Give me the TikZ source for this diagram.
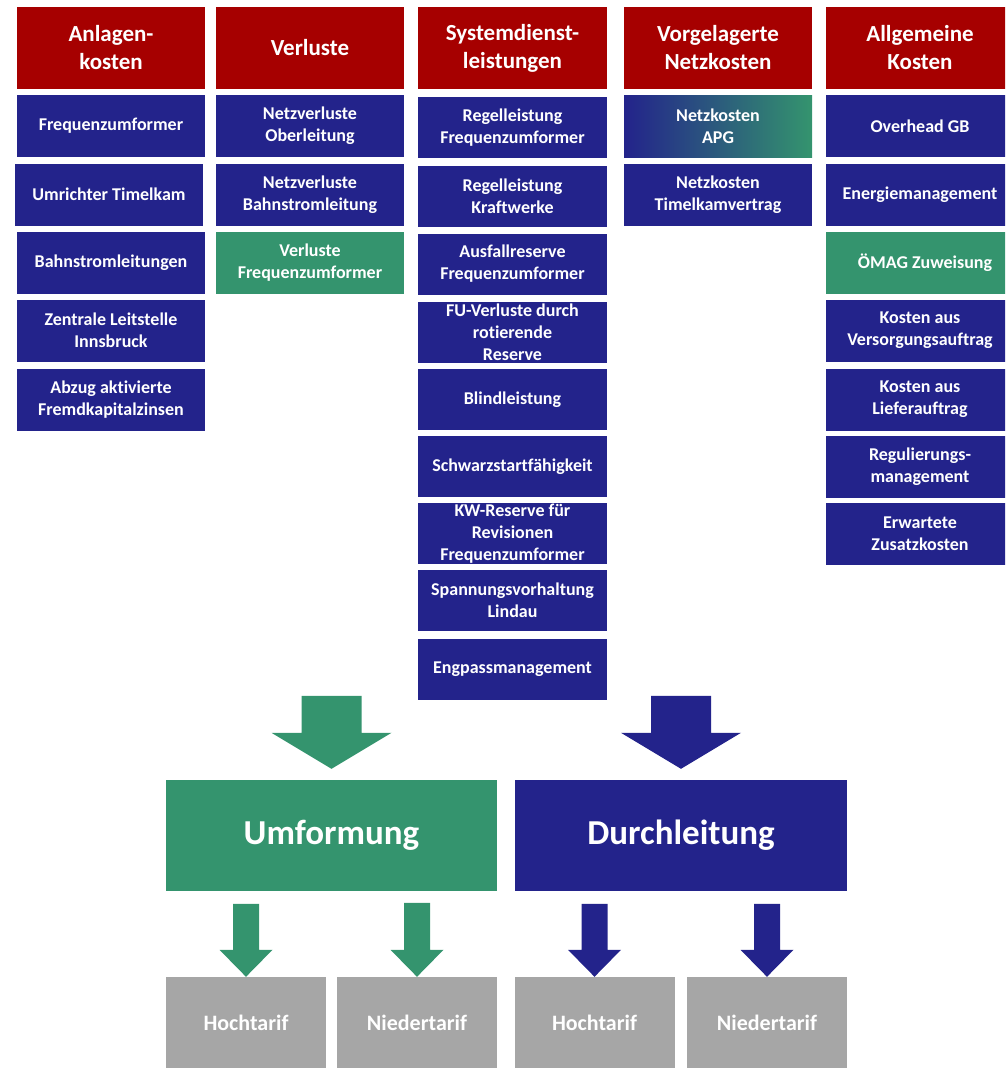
\documentclass[tikz,border=0pt]{standalone}
\usepackage{fontspec}
\setmainfont{Carlito}[Ligatures={NoCommon}]
\definecolor{dbred}{RGB}{166,0,0}
\definecolor{dbblue}{RGB}{35,35,139}
\definecolor{dbgreen}{RGB}{52,148,110}
\definecolor{dbgray}{RGB}{166,166,166}
\tikzset{
  box/.style={inner sep=0pt, align=center, text=white,
    font=\bfseries\fontsize{18}{22}\selectfont,
    minimum height=62pt, minimum width=188pt},
  head/.style={box, fill=dbred, font=\bfseries\fontsize{23}{28}\selectfont, minimum height=82pt},
  item/.style={box, fill=dbblue},
  sitem/.style={item, minimum width=189pt, minimum height=61pt},
  gitem/.style={box, fill=dbgreen},
  tarif/.style={box, fill=dbgray, minimum width=160pt, minimum height=91pt,
    font=\bfseries\fontsize{22}{26}\selectfont},
  mainbox/.style={box, minimum width=331pt, minimum height=111pt,
    font=\bfseries\fontsize{35}{40}\selectfont},
}
\begin{document}
\begin{tikzpicture}[x=1pt,y=-1pt]
\useasboundingbox (0,0) rectangle (1005,1068);
\clip (0,0) rectangle (1005,1068);
% headers
\node[head] (h1) at (111,48) {Anlagen-\\kosten};
\node[head] (h2) at (310,48) {Verluste};
\node[head, minimum width=189pt] (h3) at (512.5,48) {Systemdienst-\\leistungen};
\node[head] (h4) at (718,48) {Vorgelagerte\\Netzkosten};
\node[head] (h5) at (920,48) {Allgemeine\\Kosten};
% column 1
\node[item] (a1) at (111,126) {Frequenzumformer};
\node[item] (a2) at (109,194.5) {Umrichter Timelkam};
\node[item] (a3) at (111,262.5) {Bahnstromleitungen};
\node[item] (a4) at (111,330.5) {Zentrale Leitstelle\\Innsbruck};
\node[item] (a5) at (111,400) {Abzug aktivierte\\Fremdkapitalzinsen};
% column 2
\node[item] (b1) at (310,126) {Netzverluste\\Oberleitung};
\node[item] (b2) at (310,194.5) {Netzverluste\\Bahnstromleitung};
\node[gitem] (b3) at (310,262.5) {Verluste\\Frequenzumformer};
% column 3
\node[sitem] (c1) at (512.5,127.5) {Regelleistung\\Frequenzumformer};
\node[sitem] (c2) at (512.5,196) {Regelleistung\\Kraftwerke};
\node[sitem] (c3) at (512.5,264) {Ausfallreserve\\Frequenzumformer};
\node[sitem] (c4) at (512.5,332) {FU-Verluste durch\\rotierende\\Reserve};
\node[sitem] (c5) at (512.5,399.5) {Blindleistung};
\node[sitem] (c6) at (512.5,466.5) {Schwarzstartfähigkeit};
\node[sitem] (c7) at (512.5,533.5) {KW-Reserve für\\Revisionen\\Frequenzumformer};
\node[sitem] (c8) at (512.5,600) {Spannungsvorhaltung\\Lindau};
\node[sitem] (c9) at (512.5,669) {Engpassmanagement};
% column 4
\node[box, left color=dbblue, right color=dbgreen] (d1) at (718,126) {Netzkosten\\APG};
\node[item] (d2) at (718,194.5) {Netzkosten\\Timelkamvertrag};
% column 5
\node[item] (e1) at (920,126) {Overhead GB};
\node[item] (e2) at (920,194.5) {Energiemanagement};
\node[gitem] (e3) at (920,262.5) {\hspace*{10pt}ÖMAG Zuweisung};
\node[item] (e4) at (920,330.5) {Kosten aus\\Versorgungsauftrag};
\node[item] (e5) at (920,399.5) {Kosten aus\\Lieferauftrag};
\node[item] (e6) at (920,466.5) {Regulierungs-\\management};
\node[item] (e7) at (920,534) {Erwartete\\Zusatzkosten};
% main boxes
\node[mainbox, fill=dbgreen] (umf) at (331.5,835.5) {Umformung};
\node[mainbox, fill=dbblue, minimum width=332pt] (dur) at (681,835.5) {Durchleitung};
% tariff boxes
\node[tarif] (t1) at (246,1022.5) {Hochtarif};
\node[tarif] (t2) at (417,1022.5) {Niedertarif};
\node[tarif] (t3) at (594.5,1022.5) {Hochtarif};
\node[tarif] (t4) at (767,1022.5) {Niedertarif};
% big arrows
\fill[dbgreen, shift={(umf.north)}] (-30,-84) -- (30,-84) -- (30,-47) -- (60,-47) -- (0,-11) -- (-60,-47) -- (-30,-47) -- cycle;
\fill[dbblue, shift={(dur.north)}] (-30,-84) -- (30,-84) -- (30,-47) -- (60,-47) -- (0,-11) -- (-60,-47) -- (-30,-47) -- cycle;
% small arrows
\fill[dbgreen, shift={(t1.north)}] (-13,-73) -- (13,-73) -- (13,-27) -- (26.5,-27) -- (0,0) -- (-26.5,-27) -- (-13,-27) -- cycle;
\fill[dbgreen, shift={(t2.north)}] (-13,-74) -- (13,-74) -- (13,-27) -- (26.5,-27) -- (0,0) -- (-26.5,-27) -- (-13,-27) -- cycle;
\fill[dbblue, shift={(t3.north)}] (-13,-73) -- (13,-73) -- (13,-27) -- (26.5,-27) -- (0,0) -- (-26.5,-27) -- (-13,-27) -- cycle;
\fill[dbblue, shift={(t4.north)}] (-13,-73) -- (13,-73) -- (13,-27) -- (26.5,-27) -- (0,0) -- (-26.5,-27) -- (-13,-27) -- cycle;
\end{tikzpicture}
\end{document}
